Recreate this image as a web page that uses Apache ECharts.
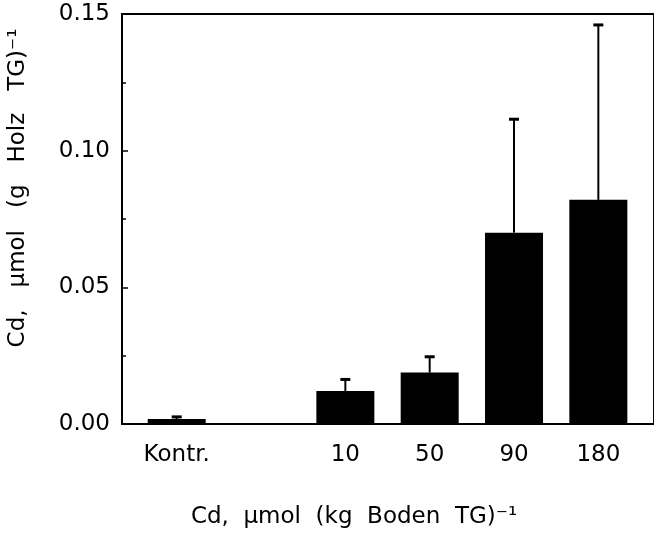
<!DOCTYPE html>
<html>
<head>
<meta charset="utf-8">
<script src="https://cdn.jsdelivr.net/npm/echarts@6/dist/echarts.min.js"></script>
<style>html,body{margin:0;padding:0;background:#fff}#c{width:654px;height:536px}</style>
</head>
<body>
<div id="c"></div>
<script>
const categories = ['Kontr.', '', '10', '50', '90', '180'];
const barIndex = [0, 2, 3, 4, 5];
const means = [0.0018, 0.0121, 0.0188, 0.0700, 0.0820];
const errors = [0.0008, 0.0042, 0.0058, 0.0415, 0.0640];
const yTicks = [0, 0.05, 0.10, 0.15];

const FONT = 'DejaVu Sans';
const chart = echarts.init(document.getElementById('c'));
const barData = barIndex.map((x, i) => [x, means[i]]);
const errData = barIndex.map((x, i) => [x, means[i], means[i] + errors[i]]);

chart.setOption({
  animation: false,
  grid: { left: 122, right: -3, top: 14, bottom: 112, show: true, borderColor: '#000', borderWidth: 2, backgroundColor: 'transparent' },
  xAxis: {
    type: 'value', min: -0.6486, max: 5.66,
    splitLine: { show: false },
    axisLine: { show: true, onZero: false, lineStyle: { color: '#000', width: 2 } },
    axisTick: { show: false },
    axisLabel: {
      customValues: barIndex,
      formatter: v => categories[Math.round(v)],
      color: '#000', fontFamily: FONT, fontSize: 23, margin: 20
    }
  },
  yAxis: {
    type: 'value', min: 0, max: 0.15, interval: 0.05,
    splitLine: { show: false },
    axisLine: { show: true, onZero: false, lineStyle: { color: '#000', width: 2 } },
    axisTick: { show: true, inside: true, length: 6, lineStyle: { color: '#000', width: 1.5 } },
    minorTick: { show: true, splitNumber: 2, length: 4, lineStyle: { color: '#000', width: 1.5 } },
    axisLabel: { color: '#000', fontFamily: FONT, fontSize: 23, margin: 12, formatter: v => v.toFixed(2) }
  },
  series: [
    {
      type: 'bar', data: barData, barWidth: 58,
      itemStyle: { color: '#000' }, z: 2
    },
    {
      type: 'custom', data: errData, z: 3,
      renderItem: function (params, api) {
        const x = api.value(0);
        const p0 = api.coord([x, api.value(1)]);
        const p1 = api.coord([x, api.value(2)]);
        const hw = 5;
        return {
          type: 'group',
          children: [
            { type: 'line', shape: { x1: p0[0], y1: p0[1], x2: p1[0], y2: p1[1] }, style: { stroke: '#000', lineWidth: 2 } },
            { type: 'line', shape: { x1: p1[0] - hw, y1: p1[1], x2: p1[0] + hw, y2: p1[1] }, style: { stroke: '#000', lineWidth: 3 } }
          ]
        };
      }
    }
  ],
  graphic: [
    {
      type: 'text', x: 354, y: 517,
      style: { text: 'Cd,  µmol  (kg  Boden  TG)⁻¹', font: '23px "DejaVu Sans"', fill: '#000', textAlign: 'center', textVerticalAlign: 'middle' }
    },
    {
      type: 'text', x: 18, y: 188, rotation: Math.PI / 2,
      style: { text: 'Cd,   µmol   (g   Holz   TG)⁻¹', font: '23px "DejaVu Sans"', fill: '#000', textAlign: 'center', textVerticalAlign: 'middle' }
    }
  ]
});
</script>
</body>
</html>
